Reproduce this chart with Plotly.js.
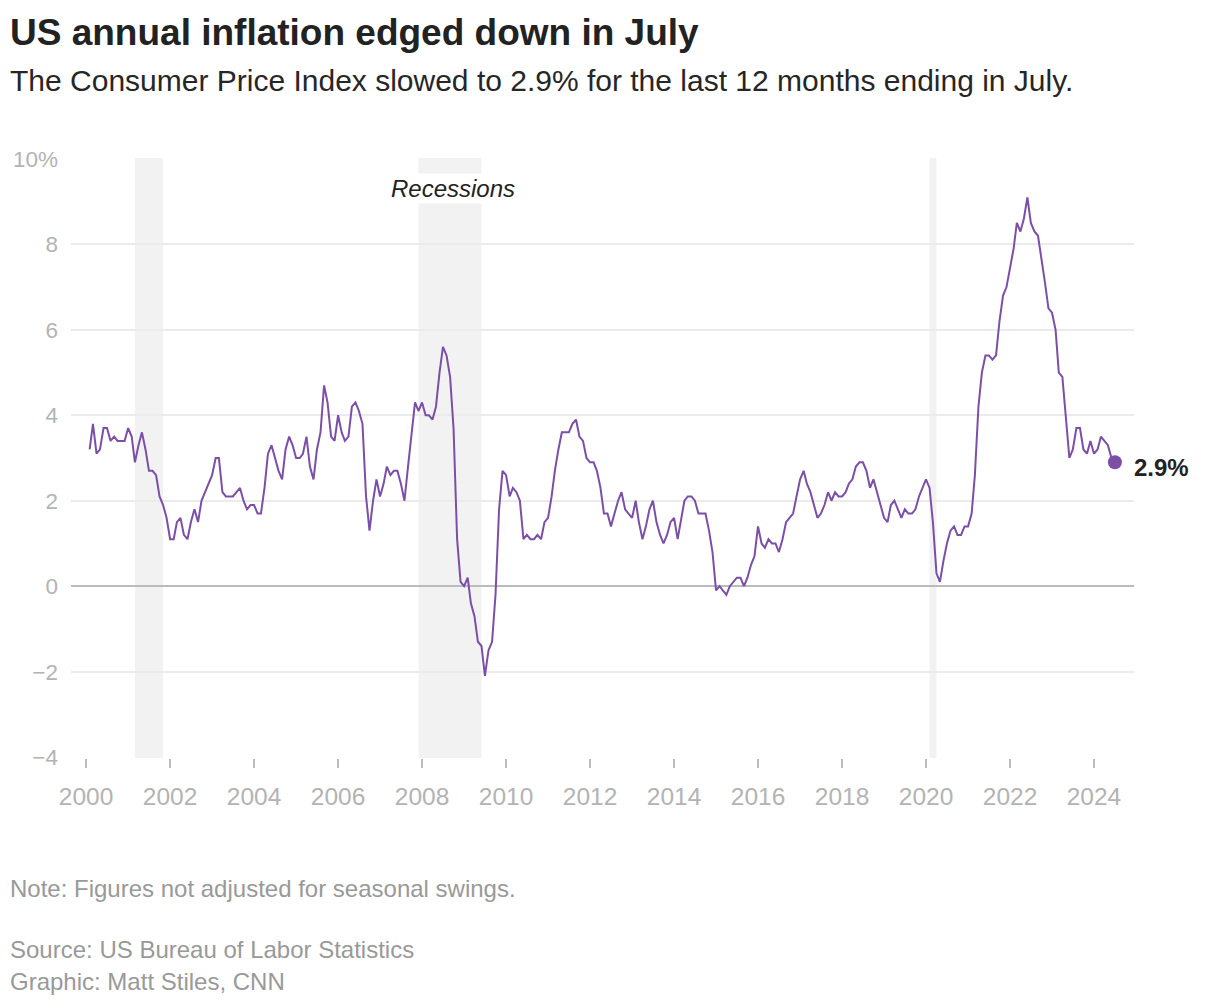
<!DOCTYPE html>
<html>
<head>
<meta charset="utf-8">
<script src="https://cdn.plot.ly/plotly-3.0.1.min.js"></script>
<style>
  html, body { margin: 0; padding: 0; background: #fff; }
  #chart { width: 1220px; height: 1008px; }
</style>
</head>
<body>
<div id="chart"></div>
<script>
// CPI-U, 12-month percent change (not seasonally adjusted), by year, Jan..Dec
const cpi2000 = [3.2, 3.8, 3.1, 3.2, 3.7, 3.7, 3.4, 3.5, 3.4, 3.4, 3.4]; // starts Feb 2000
const cpi2001 = [3.7, 3.5, 2.9, 3.3, 3.6, 3.2, 2.7, 2.7, 2.6, 2.1, 1.9, 1.6];
const cpi2002 = [1.1, 1.1, 1.5, 1.6, 1.2, 1.1, 1.5, 1.8, 1.5, 2.0, 2.2, 2.4];
const cpi2003 = [2.6, 3.0, 3.0, 2.2, 2.1, 2.1, 2.1, 2.2, 2.3, 2.0, 1.8, 1.9];
const cpi2004 = [1.9, 1.7, 1.7, 2.3, 3.1, 3.3, 3.0, 2.7, 2.5, 3.2, 3.5, 3.3];
const cpi2005 = [3.0, 3.0, 3.1, 3.5, 2.8, 2.5, 3.2, 3.6, 4.7, 4.3, 3.5, 3.4];
const cpi2006 = [4.0, 3.6, 3.4, 3.5, 4.2, 4.3, 4.1, 3.8, 2.1, 1.3, 2.0, 2.5];
const cpi2007 = [2.1, 2.4, 2.8, 2.6, 2.7, 2.7, 2.4, 2.0, 2.8, 3.5, 4.3, 4.1];
const cpi2008 = [4.3, 4.0, 4.0, 3.9, 4.2, 5.0, 5.6, 5.4, 4.9, 3.7, 1.1, 0.1];
const cpi2009 = [0.0, 0.2, -0.4, -0.7, -1.3, -1.4, -2.1, -1.5, -1.3, -0.2, 1.8, 2.7];
const cpi2010 = [2.6, 2.1, 2.3, 2.2, 2.0, 1.1, 1.2, 1.1, 1.1, 1.2, 1.1, 1.5];
const cpi2011 = [1.6, 2.1, 2.7, 3.2, 3.6, 3.6, 3.6, 3.8, 3.9, 3.5, 3.4, 3.0];
const cpi2012 = [2.9, 2.9, 2.7, 2.3, 1.7, 1.7, 1.4, 1.7, 2.0, 2.2, 1.8, 1.7];
const cpi2013 = [1.6, 2.0, 1.5, 1.1, 1.4, 1.8, 2.0, 1.5, 1.2, 1.0, 1.2, 1.5];
const cpi2014 = [1.6, 1.1, 1.5, 2.0, 2.1, 2.1, 2.0, 1.7, 1.7, 1.7, 1.3, 0.8];
const cpi2015 = [-0.1, 0.0, -0.1, -0.2, 0.0, 0.1, 0.2, 0.2, 0.0, 0.2, 0.5, 0.7];
const cpi2016 = [1.4, 1.0, 0.9, 1.1, 1.0, 1.0, 0.8, 1.1, 1.5, 1.6, 1.7, 2.1];
const cpi2017 = [2.5, 2.7, 2.4, 2.2, 1.9, 1.6, 1.7, 1.9, 2.2, 2.0, 2.2, 2.1];
const cpi2018 = [2.1, 2.2, 2.4, 2.5, 2.8, 2.9, 2.9, 2.7, 2.3, 2.5, 2.2, 1.9];
const cpi2019 = [1.6, 1.5, 1.9, 2.0, 1.8, 1.6, 1.8, 1.7, 1.7, 1.8, 2.1, 2.3];
const cpi2020 = [2.5, 2.3, 1.5, 0.3, 0.1, 0.6, 1.0, 1.3, 1.4, 1.2, 1.2, 1.4];
const cpi2021 = [1.4, 1.7, 2.6, 4.2, 5.0, 5.4, 5.4, 5.3, 5.4, 6.2, 6.8, 7.0];
const cpi2022 = [7.5, 7.9, 8.5, 8.3, 8.6, 9.1, 8.5, 8.3, 8.2, 7.7, 7.1, 6.5];
const cpi2023 = [6.4, 6.0, 5.0, 4.9, 4.0, 3.0, 3.2, 3.7, 3.7, 3.2, 3.1, 3.4];
const cpi2024 = [3.1, 3.2, 3.5, 3.4, 3.3, 3.0, 2.9];

const firstYear = 2000, firstMonth = 2; // Feb 2000
const yearly = [cpi2000, cpi2001, cpi2002, cpi2003, cpi2004, cpi2005, cpi2006, cpi2007,
  cpi2008, cpi2009, cpi2010, cpi2011, cpi2012, cpi2013, cpi2014, cpi2015, cpi2016,
  cpi2017, cpi2018, cpi2019, cpi2020, cpi2021, cpi2022, cpi2023, cpi2024];

const recessionStarts = ['2001-03-01', '2007-12-01', '2020-02-01'];
const recessionEnds   = ['2001-11-01', '2009-06-01', '2020-04-01'];

const yTickVals = [-4, -2, 0, 2, 4, 6, 8, 10];
const yTickText = ['\u22124', '\u22122', '0', '2', '4', '6', '8', '10%'];

const titleText = 'US annual inflation edged down in July';
const subtitleText = 'The Consumer Price Index slowed to 2.9% for the last 12 months ending in July.';
const noteText = 'Note: Figures not adjusted for seasonal swings.';
const sourceText = 'Source: US Bureau of Labor Statistics';
const creditText = 'Graphic: Matt Stiles, CNN';
const endLabel = '2.9%';

// build series
const dates = [], values = [];
yearly.forEach((arr, i) => {
  const yr = firstYear + i;
  const m0 = (i === 0) ? firstMonth : 1;
  arr.forEach((v, j) => {
    const m = m0 + j;
    dates.push(yr + '-' + String(m).padStart(2, '0') + '-01');
    values.push(v);
  });
});

const W = 1220, H = 1008;
const M = { l: 71, r: 86, t: 158, b: 250 };
const pw = W - M.l - M.r, ph = H - M.t - M.b;
const px = x => (x - M.l) / pw;
const py = y => (H - M.b - y) / ph;

const FONT = 'Liberation Sans, Arial, Helvetica, sans-serif';
const purple = '#7b4fa8';

const traces = [
  {
    x: dates, y: values, type: 'scatter', mode: 'lines',
    line: { color: purple, width: 2 }, hoverinfo: 'skip'
  },
  {
    x: [dates[dates.length - 1]], y: [values[values.length - 1]],
    type: 'scatter', mode: 'markers',
    marker: { color: purple, size: 14 }, cliponaxis: false, hoverinfo: 'skip'
  }
];

const shapes = recessionStarts.map((s, i) => ({
  type: 'rect', xref: 'x', yref: 'paper', x0: s, x1: recessionEnds[i], y0: 0, y1: 1,
  fillcolor: '#f2f2f2', line: { width: 0 }, layer: 'below'
}));

const annotations = [
  { text: titleText, x: px(8), y: py(32), xref: 'paper', yref: 'paper', xanchor: 'left', yanchor: 'middle',
    showarrow: false, font: { family: FONT, size: 37, color: '#222', weight: 'bold' } },
  { text: subtitleText, x: px(8), y: py(80), xref: 'paper', yref: 'paper', xanchor: 'left', yanchor: 'middle',
    showarrow: false, font: { family: FONT, size: 30, color: '#262626' } },
  { text: '<i>Recessions</i>', x: px(453), y: py(188), xref: 'paper', yref: 'paper', xanchor: 'center', yanchor: 'middle',
    showarrow: false, bgcolor: '#ffffff', borderpad: 1, font: { family: FONT, size: 24, color: '#222' } },
  { text: endLabel, x: px(1132), y: py(468), xref: 'paper', yref: 'paper', xanchor: 'left', yanchor: 'middle',
    showarrow: false, font: { family: FONT, size: 24, color: '#222', weight: 600 } },
  { text: noteText, x: px(8), y: py(888), xref: 'paper', yref: 'paper', xanchor: 'left', yanchor: 'middle',
    showarrow: false, font: { family: FONT, size: 24, color: '#999' } },
  { text: sourceText, x: px(8), y: py(949), xref: 'paper', yref: 'paper', xanchor: 'left', yanchor: 'middle',
    showarrow: false, font: { family: FONT, size: 24, color: '#999' } },
  { text: creditText, x: px(8), y: py(981), xref: 'paper', yref: 'paper', xanchor: 'left', yanchor: 'middle',
    showarrow: false, font: { family: FONT, size: 24, color: '#999' } }
];

const layout = {
  width: W, height: H,
  margin: M,
  paper_bgcolor: '#fff', plot_bgcolor: 'rgba(0,0,0,0)',
  showlegend: false,
  font: { family: FONT },
  xaxis: {
    type: 'date',
    range: ['1999-08-23', '2024-12-14'],
    tick0: '2000-01-01', dtick: 'M24', tickformat: '%Y',
    showgrid: false, zeroline: false, showline: false,
    ticks: 'outside', ticklen: 9, tickwidth: 1.5, tickcolor: '#bbb',
    ticklabelstandoff: 8,
    tickfont: { family: FONT, size: 24.5, color: '#b3b3b3' },
    fixedrange: true
  },
  yaxis: {
    range: [-4.02, 10.02],
    tickmode: 'array', tickvals: yTickVals, ticktext: yTickText,
    showgrid: true, gridcolor: '#ebebeb', gridwidth: 2,
    zeroline: true, zerolinecolor: '#bbbbbb', zerolinewidth: 2,
    showline: false, ticks: '', ticklabelstandoff: 12,
    tickfont: { family: FONT, size: 22.5, color: '#b3b3b3' },
    fixedrange: true
  },
  shapes: shapes,
  annotations: annotations
};

Plotly.newPlot('chart', traces, layout, { displayModeBar: false, staticPlot: true });
</script>
</body>
</html>
